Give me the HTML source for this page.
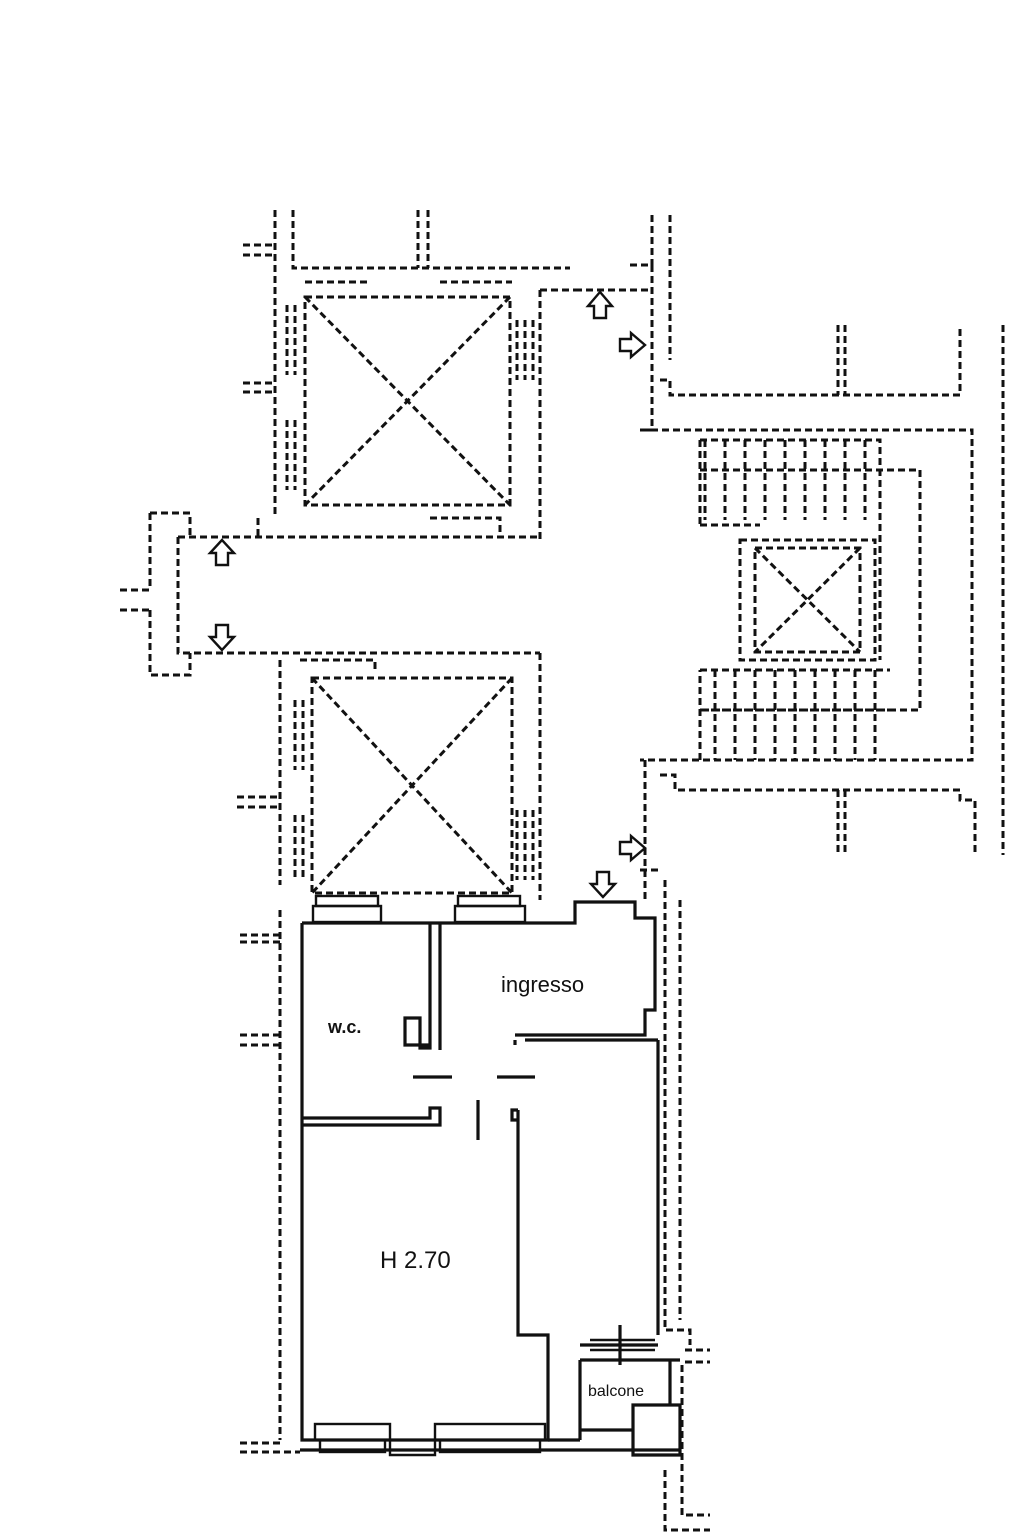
<!DOCTYPE html>
<html><head><meta charset="utf-8"><style>
html,body{margin:0;padding:0;background:#fff}
svg{display:block}
.d{fill:none;stroke:#111;stroke-width:3;stroke-dasharray:7 4}
.s{fill:none;stroke:#111;stroke-width:3.2}
.t{fill:none;stroke:#111;stroke-width:2.4}
text{font-family:"Liberation Sans",sans-serif;fill:#111}
</style></head><body>
<svg width="1023" height="1535" viewBox="0 0 1023 1535" xmlns="http://www.w3.org/2000/svg">
<path class="d" d="M275 210V515 M293 210V268H570 M418 210V268 M428 210V268"/>
<path class="d" d="M243 245H275 M243 255H275 M243 383H275 M243 392H275"/>
<path class="d" d="M305 282H370 M440 282H512 M305 297H510V505H305Z"/>
<path class="d" d="M305 297L510 505 M510 297L305 505"/>
<path class="d" d="M287 305V375 M295 305V375 M287 420V490 M295 420V490 M517 320V380 M525 320V380 M533 320V380"/>
<path class="d" d="M540 290H575 M575 290H650 M540 290V540"/>
<path class="d" d="M630 265H652V430H645 M652 215V265 M670 215V360 M660 380H670V395H960V325 M640 430H972V760H640"/>
<path class="d" d="M838 325V395 M845 325V395 M1003 325V855 M838 790V855 M845 790V855"/>
<path class="d" d="M178 537H540 M178 537V653H540 M150 513H190V537 M150 513V590 M120 590H150 M120 610H150 M150 610V675H190V653"/>
<path class="d" d="M430 518H500V537 M258 518V537"/>
<path class="d" d="M280 660V885 M540 653V900 M300 660H375V670 M312 678H512V893H312Z"/>
<path class="d" d="M312 678L512 893 M512 678L312 893"/>
<path class="d" d="M295 700V770 M303 700V770 M295 815V880 M303 815V880 M517 810V880 M525 810V880 M533 810V880 M237 797H280 M237 807H280"/>
<path class="d" d="M645 760V900 M660 775H675V790H960V800H975V855 M640 870H660"/>
<path class="d" d="M700 440H880V660 M700 440V525 M700 525H760 M740 540H875V660H740Z M755 548H860V652H755Z"/>
<path class="d" d="M755 548L860 652 M860 548L755 652"/>
<path class="d" d="M705 440V520 M725 440V520 M745 440V520 M765 440V520 M785 440V520 M805 440V520 M825 440V520 M845 440V520 M865 440V520 M700 470H920V710H700 M700 670H890 M700 760V670"/>
<path class="d" d="M715 670V760 M735 670V760 M755 670V760 M775 670V760 M795 670V760 M815 670V760 M835 670V760 M855 670V760 M875 670V760 M700 710H890"/>
<path class="d" d="M280 910V1440 M240 935H280 M240 942H280 M240 1035H280 M240 1045H280 M240 1443H280 M240 1452H300 M665 880V1330H690V1345 M680 900V1320 M685 1350H710 M685 1362H710 M682 1365V1515H710 M665 1470V1530H710"/>
<g class="s">
<path d="M302 923V1440H548V1335H518V1110"/>
<path d="M302 923H440 M430 923V1048H420V1018H405V1045H430"/>
<path d="M440 923V1050 M440 923H575V902H635V918H655V1010H645V1035H515"/>
<path d="M658 1040H525 M658 1040V1335 M515 1040V1045"/>
<path d="M413 1077H452 M497 1077H535 M478 1100V1140"/>
<path d="M302 1118H430V1108H440V1125H302"/>
<path d="M518 1110H512V1120H518"/>
<path d="M580 1345H658 M580 1360H680 M580 1360V1440 M670 1360V1405 M633 1405H680V1455H633Z M580 1430H633"/>
<path d="M548 1440H580 M300 1450H680"/>
<path d="M620 1325V1365"/>
</g>
<g class="t">
<rect x="316" y="896" width="62" height="10"/><rect x="313" y="906" width="68" height="16"/>
<rect x="458" y="896" width="62" height="10"/><rect x="455" y="906" width="70" height="16"/>
<rect x="315" y="1424" width="75" height="16"/><rect x="320" y="1440" width="65" height="12"/>
<rect x="435" y="1424" width="110" height="16"/><rect x="440" y="1440" width="100" height="12"/>
<path d="M390 1440V1455H435V1440 M590 1340H655 M590 1350H655"/>
</g>
<g class="t" style="fill:#fff">
<path d="M600 292L588 306H594V318H606V306H612Z"/>
<path d="M645 345L631 333V339H620V351H631V357Z"/>
<path d="M222 540L210 553H216V565H228V553H234Z"/>
<path d="M222 650L210 637H216V625H228V637H234Z"/>
<path d="M645 848L631 836V842H620V854H631V860Z"/>
<path d="M603 897L591 884H597V872H609V884H615Z"/>
</g>
<text x="501" y="992" font-size="22">ingresso</text>
<text x="328" y="1033" font-size="18" font-weight="bold">w.c.</text>
<text x="380" y="1268" font-size="24">H 2.70</text>
<text x="588" y="1396" font-size="16">balcone</text>
</svg>
</body></html>
